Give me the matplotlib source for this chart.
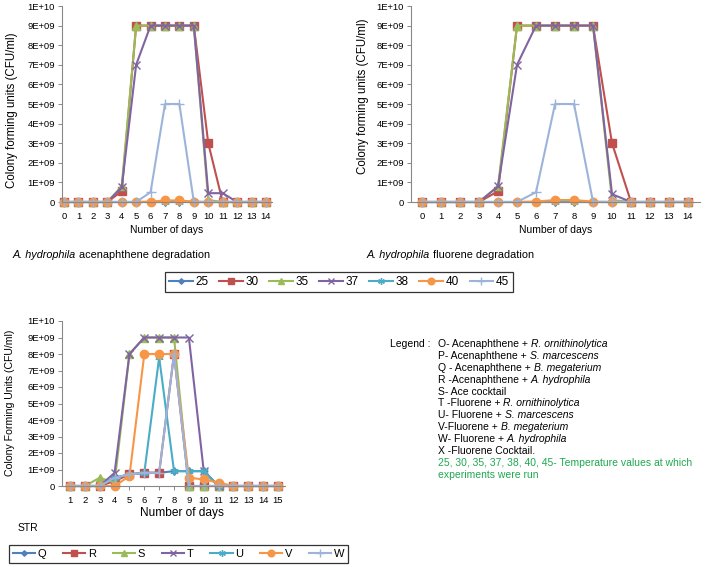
import numpy as np
import matplotlib
matplotlib.use("Agg")
import matplotlib.pyplot as plt
from matplotlib.lines import Line2D

plt.rcParams["font.family"] = ["Liberation Sans", "DejaVu Sans"]

W, H = 717, 567

# ---------------------------------------------------------------------
# Data (CFU/ml, in units of 1e9)
# ---------------------------------------------------------------------
temps = ["25", "30", "35", "37", "38", "40", "45"]
days_top = list(range(0, 15))

ace_25 = [0, 0, 0, 0, 0, 0, 0, 0, 0, 0, 0, 0, 0, 0, 0]
ace_30 = [0, 0, 0, 0, 0.55, 9, 9, 9, 9, 9, 3.0, 0, 0, 0, 0]
ace_35 = [0, 0, 0, 0, 0.8, 9, 9, 9, 9, 9, 0.1, 0, 0, 0, 0]
ace_37 = [0, 0, 0, 0, 0.75, 7, 9, 9, 9, 9, 0.45, 0.45, 0, 0, 0]
ace_38 = [0, 0, 0, 0, 0, 0, 0, 0, 0, 0, 0, 0, 0, 0, 0]
ace_40 = [0, 0, 0, 0, 0, 0, 0.02, 0.08, 0.08, 0.02, 0, 0, 0, 0, 0]
ace_45 = [0, 0, 0, 0, 0, 0, 0.5, 5, 5, 0, 0, 0, 0, 0, 0]

flu_25 = [0, 0, 0, 0, 0, 0, 0, 0, 0, 0, 0, 0, 0, 0, 0]
flu_30 = [0, 0, 0, 0, 0.55, 9, 9, 9, 9, 9, 3.0, 0, 0, 0, 0]
flu_35 = [0, 0, 0, 0, 0.8, 9, 9, 9, 9, 9, 0.1, 0, 0, 0, 0]
flu_37 = [0, 0, 0, 0, 0.8, 7, 9, 9, 9, 9, 0.4, 0, 0, 0, 0]
flu_38 = [0, 0, 0, 0, 0, 0, 0, 0, 0, 0, 0, 0, 0, 0, 0]
flu_40 = [0, 0, 0, 0, 0, 0, 0.02, 0.1, 0.1, 0.02, 0, 0, 0, 0, 0]
flu_45 = [0, 0, 0, 0, 0, 0, 0.5, 5, 5, 0, 0, 0, 0, 0, 0]

strains = ["Q", "R", "S", "T", "U", "V", "W"]
days_str = list(range(1, 16))
str_Q = [0, 0, 0, 0.5, 0.7, 0.8, 0.8, 0.9, 0.9, 0.9, 0, 0, 0, 0, 0]
str_R = [0, 0, 0, 0.3, 0.7, 0.8, 0.8, 8, 0, 0, 0, 0, 0, 0, 0]
str_S = [0, 0, 0.5, 0.2, 8, 9, 9, 9, 0, 0, 0, 0, 0, 0, 0]
str_T = [0, 0, 0, 0.8, 8, 9, 9, 9, 9, 0.9, 0, 0, 0, 0, 0]
str_U = [0, 0, 0, 0.5, 0.7, 0.8, 7.8, 0.9, 0.9, 0.9, 0, 0, 0, 0, 0]
str_V = [0, 0, 0, 0, 0.6, 8, 8, 8, 0.5, 0.4, 0.2, 0, 0, 0, 0]
str_W = [0, 0, 0, 0.5, 0.7, 0.8, 0.8, 8, 0, 0, 0, 0, 0, 0, 0]

y_ticks = [0, 1, 2, 3, 4, 5, 6, 7, 8, 9, 10]
y_tick_labels = ["0", "1E+09", "2E+09", "3E+09", "4E+09", "5E+09",
                 "6E+09", "7E+09", "8E+09", "9E+09", "1E+10"]

colors = ["#4F81BD", "#C0504D", "#9BBB59", "#8064A2", "#4BACC6", "#F79646", "#9DB4DA"]
markers = ["D", "s", "^", "x", (6, 2, 0), "o", "+"]
msizes = [3.5, 5.5, 5.5, 5.5, 6, 6, 7]


def fig_axes(x0, y0, x1, y1):
    return fig.add_axes([x0 / W, 1 - y1 / H, (x1 - x0) / W, (y1 - y0) / H])


def style_axes(ax, xlim, xticks):
    ax.set_xlim(*xlim)
    ax.set_ylim(0, 10)
    ax.set_yticks(y_ticks)
    ax.set_yticklabels(y_tick_labels)
    ax.set_xticks(xticks)
    ax.set_xticklabels([str(t) for t in xticks])
    for s in ["top", "right"]:
        ax.spines[s].set_visible(False)
    for s in ["left", "bottom"]:
        ax.spines[s].set_color("#888888")
        ax.spines[s].set_linewidth(0.8)
    ax.tick_params(axis="both", colors="#888888", labelcolor="black",
                   length=3, width=0.7, labelsize=6.8, pad=2)
    ax.tick_params(axis="x", pad=4)
    ax.patch.set_alpha(0)


def draw_series(ax, x, series):
    for y, c, m, ms in zip(series, colors, markers, msizes):
        ax.plot(x, y, color=c, marker=m, markersize=ms, linewidth=1.5,
                markeredgewidth=1.0, clip_on=False)


def ftext(x, y, s, **kw):
    return fig.text(x / W, 1 - y / H, s, **kw)


def rich_text(x, y, parts, size, color="black"):
    renderer = fig.canvas.get_renderer()
    cur = x
    for s, style in parts:
        t = ftext(cur, y, s, fontsize=size, style=style, color=color,
                  ha="left", va="center")
        bb = t.get_window_extent(renderer)
        cur += bb.width


fig = plt.figure(figsize=(W / 100, H / 100), dpi=100)

# ---------------------------------------------------------------------
# Top left: acenaphthene
# ---------------------------------------------------------------------
ax1 = fig_axes(62, 6, 272, 202)
draw_series(ax1, days_top, [ace_25, ace_30, ace_35, ace_37, ace_38, ace_40, ace_45])
style_axes(ax1, (-0.14, 14.42), days_top)
ftext(12, 110, "Colony forming units (CFU/ml)", rotation=90, fontsize=8.3,
      ha="center", va="center")
ftext(167, 230, "Number of days", fontsize=7.5, ha="center", va="center")

# ---------------------------------------------------------------------
# Top right: fluorene
# ---------------------------------------------------------------------
ax2 = fig_axes(411, 6, 700, 202)
draw_series(ax2, days_top, [flu_25, flu_30, flu_35, flu_37, flu_38, flu_40, flu_45])
style_axes(ax2, (-0.58, 14.63), days_top)
ftext(363, 96, "Colony forming units (CFU/ml)", rotation=90, fontsize=8.3,
      ha="center", va="center")
ftext(556, 230, "Number of days", fontsize=7.5, ha="center", va="center")

rich_text(13, 255, [("A. hydrophila", "italic"), (" acenaphthene degradation", "normal")], 7.8)
rich_text(367, 255, [("A. hydrophila", "italic"), (" fluorene degradation", "normal")], 7.8)

# temperature legend
handles1 = [Line2D([], [], color=c, marker=m, markersize=ms * 0.8, linewidth=1.5)
            for c, m, ms in zip(colors, markers, msizes)]
leg1 = fig.legend(handles1, temps, ncol=7, loc="center",
                  bbox_to_anchor=(165 / W, 1 - 294 / H, 348 / W, 24 / H),
                  mode="expand", borderaxespad=0, fontsize=8.5, frameon=True,
                  fancybox=False, handlelength=2.0, handletextpad=0.2,
                  columnspacing=1.0, borderpad=0.35)
leg1.get_frame().set_edgecolor("black")
leg1.get_frame().set_linewidth(0.9)

# ---------------------------------------------------------------------
# Bottom: strains
# ---------------------------------------------------------------------
ax3 = fig_axes(62, 321, 285, 486)
draw_series(ax3, days_str, [str_Q, str_R, str_S, str_T, str_U, str_V, str_W])
style_axes(ax3, (0.46, 15.47), days_str)
ftext(10, 403, "Colony Forming Units (CFU/ml)", rotation=90, fontsize=7.6,
      ha="center", va="center")
ftext(182, 513, "Number of days", fontsize=8.6, ha="center", va="center")
ftext(18, 528, "STR", fontsize=7.5, ha="left", va="center")

handles2 = [Line2D([], [], color=c, marker=m, markersize=ms * 0.8, linewidth=1.5)
            for c, m, ms in zip(colors, markers, msizes)]
leg2 = fig.legend(handles2, strains, ncol=7, loc="center",
                  bbox_to_anchor=(9 / W, 1 - 566 / H, 339 / W, 24 / H),
                  mode="expand", borderaxespad=0, fontsize=8, frameon=True,
                  fancybox=False, handlelength=2.0, handletextpad=0.2,
                  columnspacing=1.0, borderpad=0.35)
leg2.get_frame().set_edgecolor("black")
leg2.get_frame().set_linewidth(0.9)

# ---------------------------------------------------------------------
# Legend text block
# ---------------------------------------------------------------------
legend_lines = [
    [("O- Acenaphthene + ", "normal"), ("R. ornithinolytica", "italic")],
    [("P- Acenaphthene + ", "normal"), ("S. marcescens", "italic")],
    [("Q - Acenaphthene + ", "normal"), ("B. megaterium", "italic")],
    [("R -Acenaphthene + ", "normal"), ("A. hydrophila", "italic")],
    [("S- Ace cocktail", "normal")],
    [("T -Fluorene + ", "normal"), ("R. ornithinolytica", "italic")],
    [("U- Fluorene + ", "normal"), ("S. marcescens", "italic")],
    [("V-Fluorene + ", "normal"), ("B. megaterium", "italic")],
    [("W- Fluorene + ", "normal"), ("A. hydrophila", "italic")],
    [("X -Fluorene Cocktail.", "normal")],
]
green_lines = ["25, 30, 35, 37, 38, 40, 45- Temperature values at which",
               "experiments were run"]

ftext(390, 344, "Legend :", fontsize=7.5, ha="left", va="center")
y = 344
for parts in legend_lines:
    rich_text(438, y, parts, 7.5)
    y += 11.9
for s in green_lines:
    ftext(438, y, s, fontsize=7.5, color="#1FA84F", ha="left", va="center")
    y += 11.9

fig.savefig("out.png", dpi=100)
